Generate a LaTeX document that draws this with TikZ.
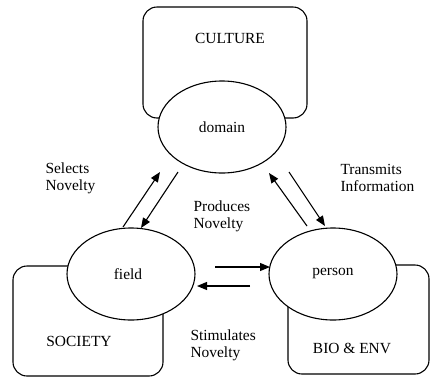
\documentclass[tikz,border=0pt]{standalone}
\usepackage{fontspec}
\setmainfont{Liberation Serif}
\usetikzlibrary{shapes.geometric,arrows.meta}
\begin{document}
\begin{tikzpicture}[x=1bp,y=-1bp,
  line width=1.1bp,
  txt/.style={font=\fontsize{15.5}{16.8}\selectfont, inner sep=0pt},
  lbl/.style={txt, align=left, anchor=west},
  oval/.style={draw, fill=white, ellipse, minimum width=128bp, minimum height=92bp, inner sep=0pt, font=\fontsize{15.5}{16.8}\selectfont},
  box/.style={draw, rounded corners=14bp},
  arr/.style={-{Triangle[length=10bp,width=8bp]}}]
\useasboundingbox (0,0) rectangle (430,378);
% context boxes
\draw[box] (143,7) rectangle (307,118);
\draw[box] (13,266) rectangle (163,376);
\draw[box] (288,265) rectangle (429,374);
% ovals
\node[oval] (domain) at (222,127) {domain};
\node[oval] (field) at (131,274) {\raisebox{-5bp}{\hspace{-6bp}field}};
\node[oval] (person) at (333,274) {\raisebox{-4bp}{person}};
% box labels
\node[txt] (culture) at (230,38) {CULTURE};
\node[txt] (society) at (79,341) {SOCIETY};
\node[txt] (bioenv) at (352,348) {BIO \& ENV};
% arrow labels
\node[lbl] (selects) at (45,178) {Selects\\Novelty};
\node[lbl] (transmits) at (340,178) {Transmits\\Information};
\node[lbl] (produces) at (193,216) {Produces\\Novelty};
\node[lbl] (stimulates) at (190,345) {Stimulates\\Novelty};
% arrow ends
\coordinate (s1) at (123,227); \coordinate (s2) at (160,172);
\coordinate (p1) at (178,172); \coordinate (p2) at (141,228);
\coordinate (t1) at (289,172); \coordinate (t2) at (325,226);
\coordinate (u1) at (307,226); \coordinate (u2) at (269,173);
\coordinate (r1) at (215,267); \coordinate (r2) at (270,267);
\coordinate (l1) at (250,286); \coordinate (l2) at (197,286);
\draw[arr] (s1) -- (s2);
\draw[arr] (p1) -- (p2);
\draw[arr] (t1) -- (t2);
\draw[arr] (u1) -- (u2);
\draw[arr] (r1) -- (r2);
\draw[arr] (l1) -- (l2);
\end{tikzpicture}
\end{document}
